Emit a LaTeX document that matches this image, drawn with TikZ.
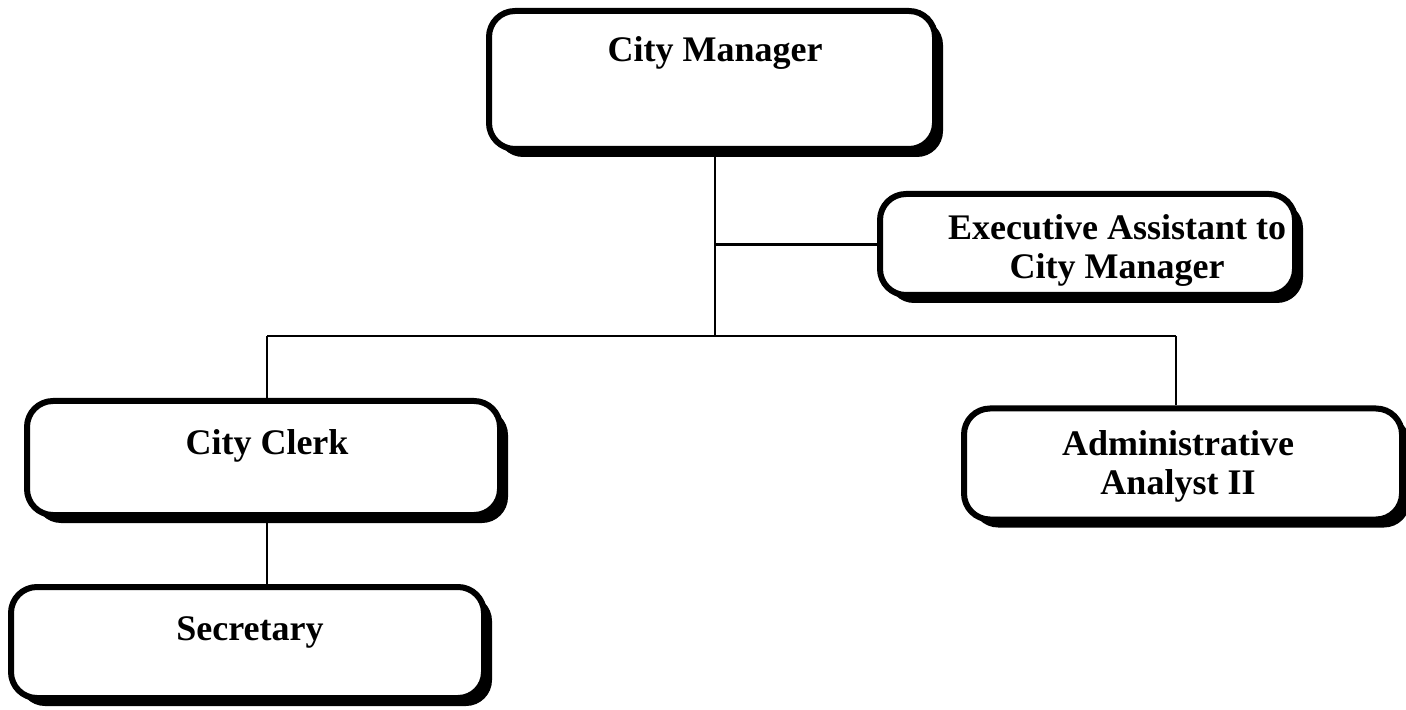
\documentclass[tikz,border=0pt]{standalone}
\usepackage{fontspec}
\setmainfont{Liberation Serif}
\usetikzlibrary{shadows}
\begin{document}
\begin{tikzpicture}[x=0.5pt,y=-0.5pt,
  orgbox/.style={draw=black, fill=white, line width=3pt, rounded corners=13pt,
    drop shadow={fill=black, opacity=1, shadow xshift=4pt, shadow yshift=-4pt},
    inner sep=0pt},
  lbl/.style={font=\fontsize{18}{19.5}\selectfont\bfseries, inner sep=0pt, align=center},
  conn/.style={line width=1.2pt}]
\useasboundingbox (0,0) rectangle (1406,710);
% boxes
\node[orgbox, minimum width=223pt, minimum height=69pt] (cm) at (712,80) {};
\node[orgbox, minimum width=207.5pt, minimum height=50.5pt] (ea) at (1087.5,244.5) {};
\node[orgbox, minimum width=236.5pt, minimum height=57pt] (cc) at (263.5,458) {};
\node[orgbox, minimum width=236.5pt, minimum height=55.5pt] (sec) at (247.5,642.5) {};
\node[orgbox, minimum width=219pt, minimum height=55.5pt] (aa) at (1183,464) {};
% labels
\node[lbl, anchor=base] (tcm) at (715,62) {City Manager};
\node[lbl, anchor=center] (tea) at (1117,250) {Executive Assistant to\\City Manager};
\node[lbl, anchor=base] (tcc) at (267,454) {City Clerk};
\node[lbl, anchor=base] (tsec) at (250,640) {Secretary};
\node[lbl, anchor=center] (taa) at (1178,466) {Administrative\\Analyst II};
% junctions
\coordinate (j1) at (715,336);
\coordinate (jl) at (267,336);
\coordinate (jr) at (1176,336);
% connectors
\draw[conn] (cm.south -| j1) -- (j1);
\draw[conn] (ea.west) -- (ea.west -| j1);
\draw[conn] (jl) -- (jr);
\draw[conn] (jl) -- (cc.north -| jl);
\draw[conn] (jr) -- (aa.north -| jr);
\draw[conn] (cc.south -| jl) -- (sec.north -| jl);
\end{tikzpicture}
\end{document}
